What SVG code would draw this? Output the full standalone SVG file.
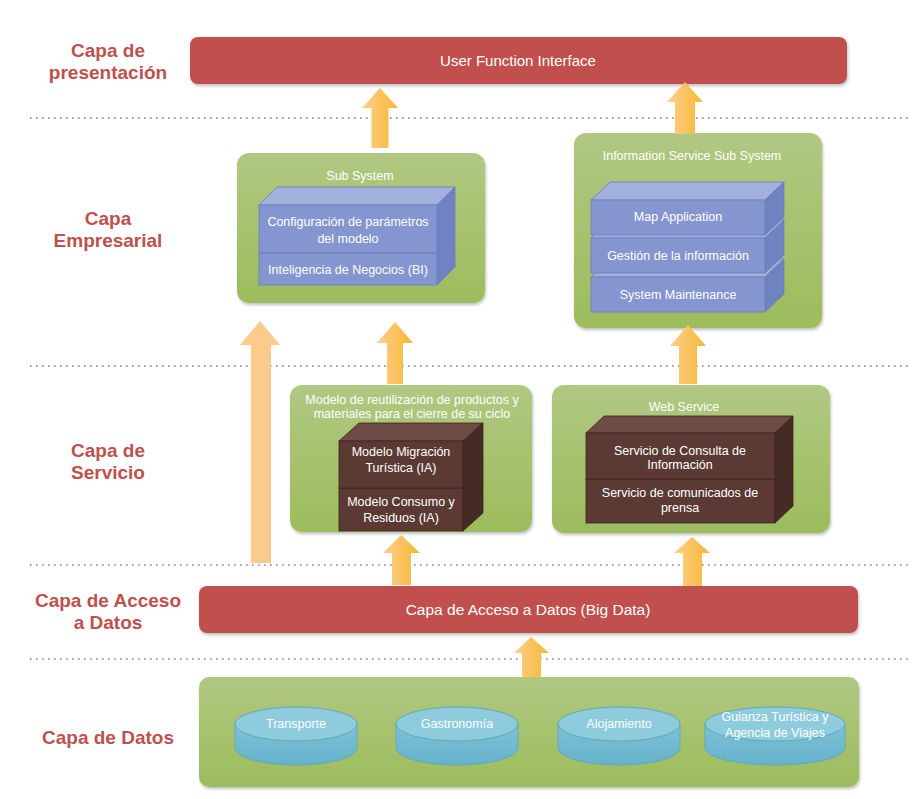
<svg xmlns="http://www.w3.org/2000/svg" width="917" height="799" viewBox="0 0 917 799">
<style>
.lbl{font-family:"Liberation Sans",Arial,sans-serif;font-weight:bold;font-size:19px;fill:#C0504D;text-anchor:middle}
.wt{font-family:"Liberation Sans",Arial,sans-serif;fill:#fff;text-anchor:middle;font-size:12.5px}
.bar{fill:#C0504D;filter:url(#sh)}
.grn{fill:url(#gg);filter:url(#sh)}
.dot{stroke:#7f7f7f;stroke-width:1.6;stroke-dasharray:1.6 4.4;fill:none}
.bf{fill:#8495CF;stroke:#6A7DBE;stroke-width:0.8}
.bt{fill:#A2B0DD;stroke:#6A7DBE;stroke-width:0.8}
.bs{fill:#6F82C2;stroke:#6A7DBE;stroke-width:0.8}
.rf{fill:#5B3A34;stroke:#3E2521;stroke-width:0.8}
.rt{fill:#6E4B44;stroke:#3E2521;stroke-width:0.8}
.rs{fill:#462A25;stroke:#3E2521;stroke-width:0.8}
.cb{fill:url(#cg);stroke:#5FA9C0;stroke-width:1}
.ct{fill:#8ECBDC;stroke:#5FA9C0;stroke-width:1}
.arr{fill:url(#ag)}
.arrp{fill:#FBCB8C}
</style>
<defs>
<filter id="sh" x="-5%" y="-10%" width="110%" height="130%">
<feDropShadow dx="1" dy="2" stdDeviation="1.5" flood-color="#000" flood-opacity="0.25"/>
</filter>
<linearGradient id="gg" x1="0" y1="0" x2="0" y2="1">
<stop offset="0" stop-color="#B0C882"/>
<stop offset="1" stop-color="#9DBC5C"/>
</linearGradient>
<linearGradient id="ag" x1="0" y1="0" x2="1" y2="0">
<stop offset="0" stop-color="#FCD08C"/>
<stop offset="1" stop-color="#F8B634"/>
</linearGradient>
<linearGradient id="cg" x1="0" y1="0" x2="0" y2="1">
<stop offset="0" stop-color="#7FC1D5"/>
<stop offset="1" stop-color="#65B3CB"/>
</linearGradient>
</defs>
<rect width="917" height="799" fill="#fff"/>

<g id="layer-labels">
<text class="lbl" x="108" y="57">Capa de</text>
<text class="lbl" x="108" y="79">presentación</text>
<text class="lbl" x="108" y="225">Capa</text>
<text class="lbl" x="108" y="247">Empresarial</text>
<text class="lbl" x="108" y="457">Capa de</text>
<text class="lbl" x="108" y="479">Servicio</text>
<text class="lbl" x="108" y="607">Capa de Acceso</text>
<text class="lbl" x="108" y="629">a Datos</text>
<text class="lbl" x="108" y="744">Capa de Datos</text>
</g>

<g id="separators">
<line class="dot" x1="30" y1="118" x2="912" y2="118"/>
<line class="dot" x1="30" y1="366" x2="912" y2="366"/>
<line class="dot" x1="30" y1="565" x2="912" y2="565"/>
<line class="dot" x1="30" y1="659" x2="912" y2="659"/>
</g>

<g id="user-function-interface">
<rect class="bar" x="190" y="37" width="657" height="47" rx="8"/>
<text class="wt" x="518" y="66" style="font-size:15px">User Function Interface</text>
</g>

<g id="sub-system">
<rect class="grn" x="237" y="153" width="248" height="150" rx="12"/>
<text class="wt" x="360" y="180">Sub System</text>
<g id="bi-block">
<polygon class="bt" points="259,253 277,235 455,235 437,253"/>
<polygon class="bs" points="437,253 455,235 455,267 437,285"/>
<rect class="bf" x="259" y="253" width="178" height="32"/>
<text class="wt" x="348" y="274">Inteligencia de Negocios (BI)</text>
</g>
<g id="config-block">
<polygon class="bt" points="259,205 277,187 455,187 437,205"/>
<polygon class="bs" points="437,205 455,187 455,235 437,253"/>
<rect class="bf" x="259" y="205" width="178" height="48"/>
<text class="wt" x="348" y="226">Configuración de parámetros</text>
<text class="wt" x="348" y="243">del modelo</text>
</g>
</g>

<g id="information-service-sub-system">
<rect class="grn" x="574" y="133" width="248" height="195" rx="12"/>
<text class="wt" x="692" y="160">Information Service Sub System</text>
<g id="system-maintenance">
<polygon class="bt" points="591,277 610,259 784,259 765,277"/>
<polygon class="bs" points="765,277 784,259 784,294 765,312"/>
<rect class="bf" x="591" y="277" width="174" height="35"/>
<text class="wt" x="678" y="299">System Maintenance</text>
</g>
<g id="gestion-informacion">
<polygon class="bt" points="591,238 610,220 784,220 765,238"/>
<polygon class="bs" points="765,238 784,220 784,255 765,273"/>
<rect class="bf" x="591" y="238" width="174" height="35"/>
<text class="wt" x="678" y="260">Gestión de la información</text>
</g>
<g id="map-application">
<polygon class="bt" points="591,200 610,182 784,182 765,200"/>
<polygon class="bs" points="765,200 784,182 784,217 765,235"/>
<rect class="bf" x="591" y="200" width="174" height="35"/>
<text class="wt" x="678" y="221">Map Application</text>
</g>
</g>

<g id="modelo-reutilizacion">
<rect class="grn" x="290" y="385" width="242" height="147" rx="12"/>
<text class="wt" x="412" y="404">Modelo de reutilización de productos y</text>
<text class="wt" x="412" y="418">materiales para el cierre de su ciclo</text>
<g id="modelo-consumo">
<polygon class="rt" points="339,488 359,470 483,470 463,488"/>
<polygon class="rs" points="463,488 483,470 483,513 463,531"/>
<rect class="rf" x="339" y="488" width="124" height="43"/>
<text class="wt" x="401" y="506">Modelo Consumo y</text>
<text class="wt" x="401" y="522">Residuos (IA)</text>
</g>
<g id="modelo-migracion">
<polygon class="rt" points="339,441 359,423 483,423 463,441"/>
<polygon class="rs" points="463,441 483,423 483,470 463,488"/>
<rect class="rf" x="339" y="441" width="124" height="47"/>
<text class="wt" x="401" y="456">Modelo Migración</text>
<text class="wt" x="401" y="472">Turística (IA)</text>
</g>
</g>

<g id="web-service">
<rect class="grn" x="552" y="385" width="278" height="148" rx="12"/>
<text class="wt" x="684" y="411">Web Service</text>
<g id="servicio-comunicados">
<polygon class="rt" points="586,479 604,462 793,462 775,479"/>
<polygon class="rs" points="775,479 793,462 793,506 775,523"/>
<rect class="rf" x="586" y="479" width="189" height="44"/>
<text class="wt" x="680" y="497">Servicio de comunicados de</text>
<text class="wt" x="680" y="512">prensa</text>
</g>
<g id="servicio-consulta">
<polygon class="rt" points="586,433 604,416 793,416 775,433"/>
<polygon class="rs" points="775,433 793,416 793,462 775,479"/>
<rect class="rf" x="586" y="433" width="189" height="46"/>
<text class="wt" x="680" y="455">Servicio de Consulta de</text>
<text class="wt" x="680" y="469">Información</text>
</g>
</g>

<g id="capa-acceso-datos">
<rect class="bar" x="199" y="586" width="659" height="47" rx="8"/>
<text class="wt" x="528" y="615" style="font-size:15.5px">Capa de Acceso a Datos (Big Data)</text>
</g>

<g id="capa-datos">
<rect class="grn" x="199" y="677" width="660" height="110" rx="10"/>
<g id="transporte">
<path class="cb" d="M235,724 L235,748 A61,17 0 0 0 357,748 L357,724 Z"/>
<ellipse class="ct" cx="296" cy="724" rx="61" ry="17"/>
<text class="wt" x="296" y="728">Transporte</text>
</g>
<g id="gastronomia">
<path class="cb" d="M396,724 L396,748 A61,17 0 0 0 518,748 L518,724 Z"/>
<ellipse class="ct" cx="457" cy="724" rx="61" ry="17"/>
<text class="wt" x="457" y="728">Gastronomía</text>
</g>
<g id="alojamiento">
<path class="cb" d="M558,724 L558,748 A61,17 0 0 0 680,748 L680,724 Z"/>
<ellipse class="ct" cx="619" cy="724" rx="61" ry="17"/>
<text class="wt" x="619" y="728">Alojamiento</text>
</g>
<g id="guianza">
<path class="cb" d="M705,724 L705,748 A70,17 0 0 0 845,748 L845,724 Z"/>
<ellipse class="ct" cx="775" cy="724" rx="70" ry="17"/>
<text class="wt" x="775" y="721">Guianza Turística y</text>
<text class="wt" x="775" y="737">Agencia de Viajes</text>
</g>
</g>

<g id="connectors">
<polygon class="arr" points="380,88 398,108 388.5,108 388.5,148 371.5,148 371.5,108 362,108"/>
<polygon class="arr" points="685,82 703,102 695,102 695,134 675,134 675,102 667,102"/>
<polygon class="arrp" points="260,321 280,345 271,345 271,563 251,563 251,345 240,345"/>
<polygon class="arr" points="395,322 413,343 403,343 403,384 387,384 387,343 377,343"/>
<polygon class="arr" points="688,325 706,346 697,346 697,384 679,384 679,346 670,346"/>
<polygon class="arr" points="401,535 420,553 411,553 411,585 392,585 392,553 383,553"/>
<polygon class="arr" points="692,537 710,553 702,553 702,586 683,586 683,553 674,553"/>
<polygon class="arr" points="531,637 549,653 541,653 541,677 522,677 522,653 514,653"/>
</g>
</svg>
